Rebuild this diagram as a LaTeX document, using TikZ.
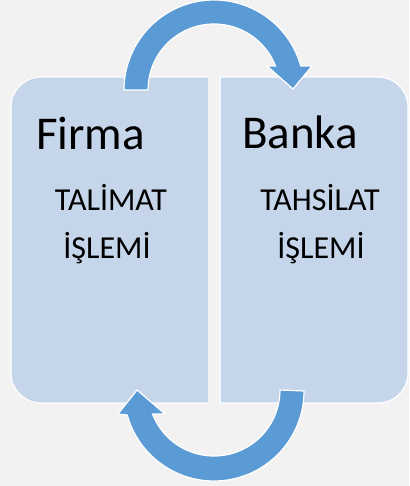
\documentclass[tikz,border=0pt]{standalone}
\usepackage{fontspec}
\setmainfont{Carlito}
\definecolor{bgc}{HTML}{F2F2F2}
\definecolor{boxc}{HTML}{C5D5EA}
\definecolor{arrc}{HTML}{5B9BD5}
\tikzset{
  panel/.style={fill=boxc, draw=white, line width=1.2pt},
  cyc/.style={fill=arrc, draw=white, line width=1.2pt, line join=miter},
  title/.style={inner sep=0pt, font=\fontsize{47}{52}\selectfont, anchor=base west},
  sub/.style={inner sep=0pt, font=\fontsize{32}{37}\selectfont, anchor=base}
}
\begin{document}
\begin{tikzpicture}[x=1pt,y=1pt]
\fill[bgc] (0,0) rectangle (409,-486);
\useasboundingbox (0,0) rectangle (409,-486);
% panels
\draw[panel] (209,-77) -- (41,-77) arc[start angle=90,end angle=180,radius=30]
  -- (11,-373) arc[start angle=180,end angle=270,radius=30] -- (209,-403) -- cycle;
\draw[panel] (220,-77) -- (378,-77) arc[start angle=90,end angle=0,radius=30]
  -- (408,-373) arc[start angle=0,end angle=-90,radius=30] -- (220,-403) -- cycle;
% top arrow
\draw[cyc] (124,-90) arc[start angle=180,end angle=15.47,radius=90]
  -- (312,-66) -- (293,-89) -- (267,-66) -- (275.5,-66)
  arc[start angle=21.32,end angle=180,radius=66] -- cycle;
% bottom arrow
\draw[cyc] (304,-391) arc[start angle=0,end angle=-164.53,radius=90]
  -- (118,-414) -- (137,-390) -- (165,-414) -- (152.5,-414)
  arc[start angle=-158.68,end angle=0,radius=66] -- cycle;
% texts
\node[title] (firma) at (36,-150) {Firma};
\node[title] (banka) at (242,-149) {Banka};
\node[sub] (tal) at (111,-210) {TALİMAT};
\node[sub] (isl1) at (107,-258) {İŞLEMİ};
\node[sub] (tah) at (320,-210) {TAHSİLAT};
\node[sub] (isl2) at (321,-258) {İŞLEMİ};
\end{tikzpicture}
\end{document}
